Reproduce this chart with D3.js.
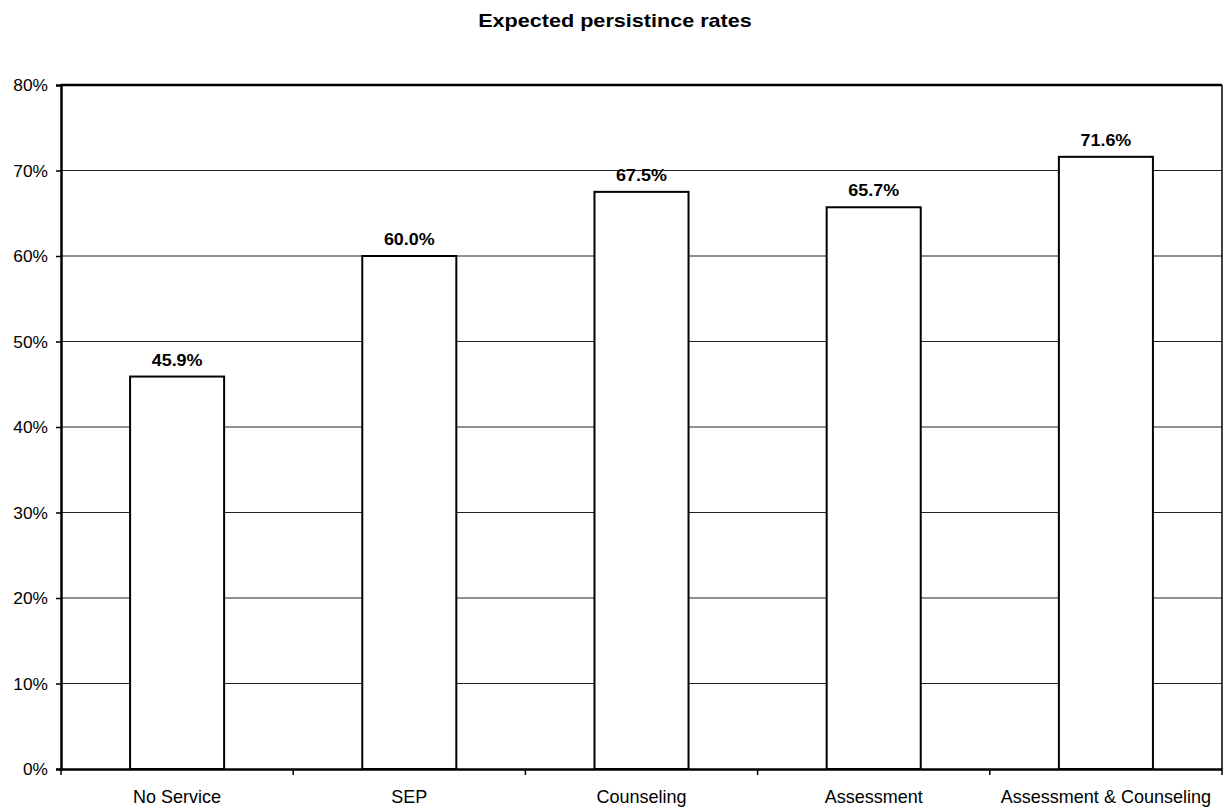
<!DOCTYPE html>
<html><head><meta charset="utf-8">
<script src="https://cdn.jsdelivr.net/npm/d3@7"></script>
<style>body{margin:0;background:#fff}svg{display:block}</style>
</head><body>
<script>
const categories = ["No Service","SEP","Counseling","Assessment","Assessment & Counseling"];
const values = [45.9, 60.0, 67.5, 65.7, 71.6];
const yTicks = [0,10,20,30,40,50,60,70,80];
const title = "Expected persistince rates";

const W = 1226, H = 808;
const m = {left: 61, right: 1222, top: 85, bottom: 769};
const FONT = "Liberation Sans, Arial, sans-serif";
const svg = d3.select("body").append("svg").attr("width", W).attr("height", H)
  .style("font-family", FONT);

const x = d3.scaleBand().domain(categories).range([m.left, m.right]).paddingInner(0.595).paddingOuter(0.2975);
const xb = d3.scaleBand().domain(categories).range([m.left, m.right]);
const y = d3.scaleLinear().domain([0, 80]).range([m.bottom, m.top]);

function sText(g, px, py, str, size, sx, anchor, bold) {
  g.append("text").attr("transform", `translate(${px},${py}) scale(${sx},1)`)
    .attr("text-anchor", anchor).attr("font-size", size)
    .attr("font-weight", bold ? "bold" : "normal").attr("fill", "#000").text(str);
}

sText(svg, 615, 27, title, 18, 1.2, "middle", true);

svg.append("g").selectAll("line").data(yTicks.filter(d => d > 0 && d < 80)).join("line")
  .attr("x1", m.left).attr("x2", m.right).attr("y1", d => y(d)).attr("y2", d => y(d))
  .attr("stroke", "#222").attr("stroke-width", 1.2);

svg.append("line").attr("x1", m.left).attr("x2", m.right).attr("y1", m.top).attr("y2", m.top)
  .attr("stroke", "#000").attr("stroke-width", 2.5);
svg.append("line").attr("x1", m.right).attr("x2", m.right).attr("y1", m.top).attr("y2", m.bottom)
  .attr("stroke", "#000").attr("stroke-width", 1.5);

svg.append("g").selectAll("rect").data(values).join("rect")
  .attr("x", (d, i) => x(categories[i])).attr("width", x.bandwidth())
  .attr("y", d => y(d)).attr("height", d => y(0) - y(d))
  .attr("fill", "#fff").attr("stroke", "#000").attr("stroke-width", 2);

const vl = svg.append("g");
values.forEach((v, i) => sText(vl, x(categories[i]) + x.bandwidth() / 2, y(v) - 11, v.toFixed(1) + "%", 16, 1.12, "middle", true));

const ya = svg.append("g").attr("transform", `translate(${m.left},0)`)
  .call(d3.axisLeft(y).tickValues(yTicks).tickFormat("").tickSize(5));
ya.select(".domain").attr("stroke", "#000").attr("stroke-width", 2.5);
ya.selectAll(".tick line").attr("stroke", "#000").attr("stroke-width", 1.5);
const yl = svg.append("g");
yTicks.forEach(t => sText(yl, m.left - 13, y(t) + 6, t + "%", 16.5, 1.05, "end", false));

const xa = svg.append("g").attr("transform", `translate(0,${m.bottom})`)
  .call(d3.axisBottom(xb).tickSize(0).tickFormat(""));
xa.select(".domain").attr("stroke", "#000").attr("stroke-width", 2.5);
const bounds = categories.map(c => xb(c)).concat([m.right]);
xa.append("g").selectAll("line").data(bounds).join("line")
  .attr("x1", d => d).attr("x2", d => d).attr("y1", 0).attr("y2", 6)
  .attr("stroke", "#000").attr("stroke-width", 1.5);
const xl = svg.append("g");
categories.forEach(c => sText(xl, xb(c) + xb.bandwidth() / 2, 803, c, 17.5, 1.03, "middle", false));
</script>
</body></html>
